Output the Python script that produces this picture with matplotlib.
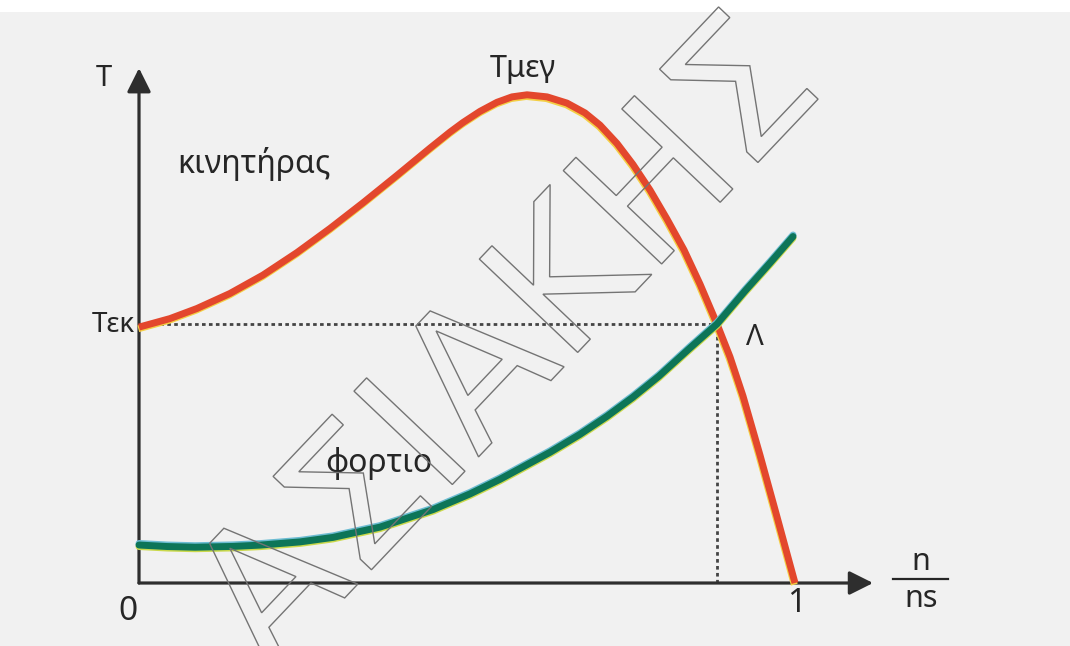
import matplotlib
matplotlib.use("Agg")
import matplotlib.pyplot as plt
import matplotlib.patheffects as pe
from matplotlib.textpath import TextPath
from matplotlib.patches import PathPatch, Rectangle
from matplotlib.font_manager import FontProperties
from matplotlib.transforms import Affine2D, IdentityTransform

plt.rcParams['font.family'] = ['Noto Sans', 'DejaVu Sans']

# ---------------- data ----------------
# speed ratio n/ns
motor_n = [0.0, 0.0473, 0.0884, 0.1387, 0.1890, 0.2409, 0.2912, 0.3415, 0.3933,
           0.4436, 0.4741, 0.4939, 0.5198, 0.5457, 0.5686, 0.5915, 0.6220, 0.6524,
           0.6799, 0.7027, 0.7287, 0.7530, 0.7790, 0.8049, 0.8308, 0.8552, 0.8811,
           0.9009, 0.9207, 0.9466, 0.9726, 1.0]
# motor torque (in units of the starting torque Tek)
motor_T = [0.988, 1.021, 1.060, 1.118, 1.189, 1.276, 1.369, 1.468, 1.574,
           1.679, 1.741, 1.778, 1.821, 1.856, 1.877, 1.885, 1.877, 1.853,
           1.815, 1.768, 1.697, 1.616, 1.517, 1.405, 1.286, 1.154, 1.0,
           0.873, 0.722, 0.494, 0.255, 0.0]

load_n = [0.0, 0.0427, 0.0854, 0.1433, 0.1845, 0.2454, 0.2957, 0.3674, 0.4482,
          0.5046, 0.5503, 0.6265, 0.6723, 0.7134, 0.7530, 0.7927, 0.8399, 0.8811,
          0.9238, 0.9619, 0.9970]
load_T = [0.1467, 0.1409, 0.1382, 0.1413, 0.1463, 0.1587, 0.1761, 0.2158, 0.2834,
          0.3440, 0.4004, 0.5046, 0.5741, 0.6436, 0.7174, 0.7988, 0.9073, 1.0,
          1.1274, 1.2355, 1.3378]

T_ek = 1.0        # starting torque level
n_op = 0.881      # operating point Λ
x_axis_end = 1.119
y_axis_end = 1.988

lbl_T = "T"
lbl_Tek = "Τεκ"
lbl_motor = "κινητήρας"
lbl_Tmax = "Τμεγ"
lbl_load = "φορτιο"
lbl_op = "Λ"
lbl_zero = "0"
lbl_one = "1"
lbl_num = "n"
lbl_den = "ns"
watermark = "ΑΣΙΑΚΗΣ"

# ---------------- figure ----------------
W, H = 1070, 646
fig = plt.figure(figsize=(W / 100, H / 100), dpi=100)
fig.patch.set_facecolor('#f1f1f1')
fig.add_artist(Rectangle((0, 1 - 12 / H), 1, 12 / H, transform=fig.transFigure,
                         facecolor='white', edgecolor='none', zorder=0))

ax = fig.add_axes([0, 0, 1, 1])
ax.set_axis_off()
ax.set_xlim(-0.2119, 1.4192)
ax.set_ylim(-0.2432, 2.2510)

axis_col = '#2e2e2e'
# axes with arrows
for tip in [(x_axis_end, 0), (0, y_axis_end)]:
    ax.annotate('', xy=tip, xytext=(0, 0),
                arrowprops=dict(arrowstyle='-|>,head_length=1.0,head_width=0.5',
                                mutation_scale=14.5, lw=2.3, color=axis_col,
                                shrinkA=0, shrinkB=0), zorder=3)

# dotted guide lines
ax.plot([0, n_op], [T_ek, T_ek], color='#444444', lw=2.0,
        linestyle=(0, (1.3, 1.2)), zorder=2, solid_capstyle='butt')
ax.plot([n_op, n_op], [0, T_ek], color='#444444', lw=2.0,
        linestyle=(0, (1.3, 1.2)), zorder=2)

# motor curve
ax.plot(motor_n, motor_T, color='#e3472d', lw=5.0, solid_capstyle='butt',
        solid_joinstyle='round', zorder=4,
        path_effects=[pe.SimpleLineShadow(offset=(-0.5, -1.2), shadow_color='#f4cf45',
                                          alpha=1.0, rho=1.0),
                      pe.Normal()])
# load curve
ax.plot(load_n, load_T, color='#0d7558', lw=5.0, solid_capstyle='round',
        solid_joinstyle='round', zorder=5,
        path_effects=[pe.SimpleLineShadow(offset=(0, 1.1), shadow_color='#6cbcd2',
                                          alpha=1.0, rho=1.0),
                      pe.SimpleLineShadow(offset=(0, -1.1), shadow_color='#cbd94c',
                                          alpha=1.0, rho=1.0),
                      pe.Normal()])

# labels
tc = '#262626'
ax.text(-0.053, 1.946, lbl_T, fontsize=21, color=tc, ha='center', va='center')
ax.text(-0.006, 0.996, lbl_Tek, fontsize=20, color=tc, ha='right', va='center')
ax.text(0.058, 1.583, lbl_motor, fontsize=23, color=tc, ha='left', va='baseline')
ax.text(0.535, 1.954, lbl_Tmax, fontsize=22, color=tc, ha='left', va='baseline')
ax.text(0.2835, 0.4286, lbl_load, fontsize=23, color=tc, ha='left', va='baseline')
ax.text(0.939, 0.919, lbl_op, fontsize=21, color=tc, ha='center', va='baseline')
ax.text(-0.017, -0.1429, lbl_zero, fontsize=24, color=tc, ha='center', va='baseline')
ax.text(1.003, -0.112, lbl_one, fontsize=24, color=tc, ha='center', va='baseline')
ax.text(1.192, 0.0502, lbl_num, fontsize=22, color=tc, ha='center', va='baseline')
ax.text(1.192, -0.0927, lbl_den, fontsize=22, color=tc, ha='center', va='baseline')
ax.plot([1.149, 1.233], [0.0154, 0.0154], color=tc, lw=1.6)

# watermark (outlined letters along the diagonal)
tp = TextPath((0, 0), watermark, size=186, prop=FontProperties(family='DejaVu Sans'))
ext = tp.get_extents()
cx, cy = (ext.x0 + ext.x1) / 2, (ext.y0 + ext.y1) / 2
tr = Affine2D().translate(-cx, -cy).rotate_deg(46.5).translate(496, H - 340)
wm = PathPatch(tr.transform_path(tp), facecolor='none', edgecolor='#747474',
               lw=1.0, transform=IdentityTransform(), zorder=10)
fig.add_artist(wm)

fig.savefig('out.png', dpi=100, facecolor=fig.get_facecolor())
